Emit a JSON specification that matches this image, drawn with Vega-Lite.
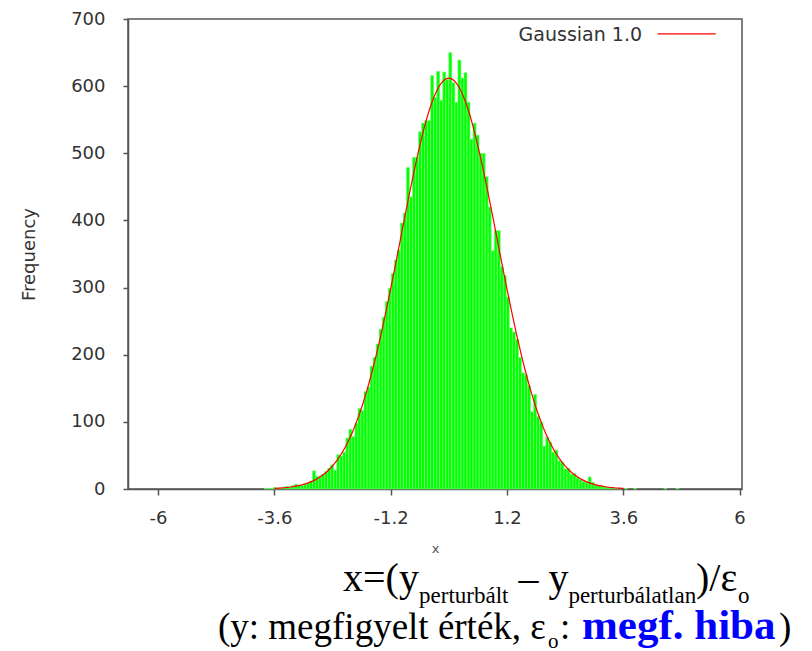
{
"$schema": "https://vega.github.io/schema/vega-lite/v6.json",
"width": 614, "height": 470,
"autosize": {"type": "none"},
"padding": {"left": 128, "top": 19, "right": 70, "bottom": 162},
"background": "white",
"config": {
  "view": {"stroke": "#555", "strokeWidth": 1.5},
  "axis": {"domainColor": "#555", "domainWidth": 1.5, "tickColor": "#555", "tickWidth": 1.5, "labelFont": "DejaVu Sans", "labelFontSize": 18, "labelColor": "#333", "titleFont": "DejaVu Sans", "titleFontWeight": "normal", "grid": false}
},
"datasets": {
  "bins": [
    {"b": -3.8125, "e": -3.75, "n": 1}, {"b": -3.75, "e": -3.6875, "n": 1}, {"b": -3.6875, "e": -3.625, "n": 1},
    {"b": -3.625, "e": -3.5625, "n": 2}, {"b": -3.5625, "e": -3.5, "n": 1}, {"b": -3.5, "e": -3.4375, "n": 2},
    {"b": -3.4375, "e": -3.375, "n": 2}, {"b": -3.375, "e": -3.3125, "n": 4}, {"b": -3.3125, "e": -3.25, "n": 3},
    {"b": -3.25, "e": -3.1875, "n": 5}, {"b": -3.1875, "e": -3.125, "n": 7}, {"b": -3.125, "e": -3.0625, "n": 6},
    {"b": -3.0625, "e": -3.0, "n": 5}, {"b": -3.0, "e": -2.9375, "n": 7}, {"b": -2.9375, "e": -2.875, "n": 9},
    {"b": -2.875, "e": -2.8125, "n": 12}, {"b": -2.8125, "e": -2.75, "n": 27}, {"b": -2.75, "e": -2.6875, "n": 19},
    {"b": -2.6875, "e": -2.625, "n": 19}, {"b": -2.625, "e": -2.5625, "n": 22}, {"b": -2.5625, "e": -2.5, "n": 26},
    {"b": -2.5, "e": -2.4375, "n": 31}, {"b": -2.4375, "e": -2.375, "n": 36}, {"b": -2.375, "e": -2.3125, "n": 28},
    {"b": -2.3125, "e": -2.25, "n": 51}, {"b": -2.25, "e": -2.1875, "n": 49}, {"b": -2.1875, "e": -2.125, "n": 55},
    {"b": -2.125, "e": -2.0625, "n": 76}, {"b": -2.0625, "e": -2.0, "n": 89}, {"b": -2.0, "e": -1.9375, "n": 78},
    {"b": -1.9375, "e": -1.875, "n": 98}, {"b": -1.875, "e": -1.8125, "n": 120}, {"b": -1.8125, "e": -1.75, "n": 117},
    {"b": -1.75, "e": -1.6875, "n": 145}, {"b": -1.6875, "e": -1.625, "n": 152}, {"b": -1.625, "e": -1.5625, "n": 183},
    {"b": -1.5625, "e": -1.5, "n": 196}, {"b": -1.5, "e": -1.4375, "n": 216}, {"b": -1.4375, "e": -1.375, "n": 238},
    {"b": -1.375, "e": -1.3125, "n": 256}, {"b": -1.3125, "e": -1.25, "n": 279}, {"b": -1.25, "e": -1.1875, "n": 299},
    {"b": -1.1875, "e": -1.125, "n": 321}, {"b": -1.125, "e": -1.0625, "n": 341}, {"b": -1.0625, "e": -1.0, "n": 356},
    {"b": -1.0, "e": -0.9375, "n": 396}, {"b": -0.9375, "e": -0.875, "n": 411}, {"b": -0.875, "e": -0.8125, "n": 479},
    {"b": -0.8125, "e": -0.75, "n": 435}, {"b": -0.75, "e": -0.6875, "n": 494}, {"b": -0.6875, "e": -0.625, "n": 494},
    {"b": -0.625, "e": -0.5625, "n": 532}, {"b": -0.5625, "e": -0.5, "n": 545}, {"b": -0.5, "e": -0.4375, "n": 549},
    {"b": -0.4375, "e": -0.375, "n": 549}, {"b": -0.375, "e": -0.3125, "n": 616}, {"b": -0.3125, "e": -0.25, "n": 583},
    {"b": -0.25, "e": -0.1875, "n": 622}, {"b": -0.1875, "e": -0.125, "n": 579}, {"b": -0.125, "e": -0.0625, "n": 621},
    {"b": -0.0625, "e": 0.0, "n": 610}, {"b": 0.0, "e": 0.0625, "n": 650}, {"b": 0.0625, "e": 0.125, "n": 605},
    {"b": 0.125, "e": 0.1875, "n": 576}, {"b": 0.1875, "e": 0.25, "n": 639}, {"b": 0.25, "e": 0.3125, "n": 612},
    {"b": 0.3125, "e": 0.375, "n": 620}, {"b": 0.375, "e": 0.4375, "n": 576}, {"b": 0.4375, "e": 0.5, "n": 521},
    {"b": 0.5, "e": 0.5625, "n": 545}, {"b": 0.5625, "e": 0.625, "n": 527}, {"b": 0.625, "e": 0.6875, "n": 500},
    {"b": 0.6875, "e": 0.75, "n": 500}, {"b": 0.75, "e": 0.8125, "n": 465}, {"b": 0.8125, "e": 0.875, "n": 420},
    {"b": 0.875, "e": 0.9375, "n": 355}, {"b": 0.9375, "e": 1.0, "n": 385}, {"b": 1.0, "e": 1.0625, "n": 385},
    {"b": 1.0625, "e": 1.125, "n": 331}, {"b": 1.125, "e": 1.1875, "n": 318}, {"b": 1.1875, "e": 1.25, "n": 286},
    {"b": 1.25, "e": 1.3125, "n": 240}, {"b": 1.3125, "e": 1.375, "n": 234}, {"b": 1.375, "e": 1.4375, "n": 223},
    {"b": 1.4375, "e": 1.5, "n": 196}, {"b": 1.5, "e": 1.5625, "n": 173}, {"b": 1.5625, "e": 1.625, "n": 170},
    {"b": 1.625, "e": 1.6875, "n": 154}, {"b": 1.6875, "e": 1.75, "n": 115}, {"b": 1.75, "e": 1.8125, "n": 141},
    {"b": 1.8125, "e": 1.875, "n": 108}, {"b": 1.875, "e": 1.9375, "n": 100}, {"b": 1.9375, "e": 2.0, "n": 64},
    {"b": 2.0, "e": 2.0625, "n": 77}, {"b": 2.0625, "e": 2.125, "n": 70}, {"b": 2.125, "e": 2.1875, "n": 55},
    {"b": 2.1875, "e": 2.25, "n": 58}, {"b": 2.25, "e": 2.3125, "n": 42}, {"b": 2.3125, "e": 2.375, "n": 40},
    {"b": 2.375, "e": 2.4375, "n": 30}, {"b": 2.4375, "e": 2.5, "n": 31}, {"b": 2.5, "e": 2.5625, "n": 22},
    {"b": 2.5625, "e": 2.625, "n": 23}, {"b": 2.625, "e": 2.6875, "n": 17}, {"b": 2.6875, "e": 2.75, "n": 14},
    {"b": 2.75, "e": 2.8125, "n": 11}, {"b": 2.8125, "e": 2.875, "n": 10}, {"b": 2.875, "e": 2.9375, "n": 18},
    {"b": 2.9375, "e": 3.0, "n": 10}, {"b": 3.0, "e": 3.0625, "n": 6}, {"b": 3.0625, "e": 3.125, "n": 5},
    {"b": 3.125, "e": 3.1875, "n": 4}, {"b": 3.1875, "e": 3.25, "n": 3}, {"b": 3.25, "e": 3.3125, "n": 3},
    {"b": 3.3125, "e": 3.375, "n": 2}, {"b": 3.375, "e": 3.4375, "n": 1}, {"b": 3.4375, "e": 3.5, "n": 1},
    {"b": 3.5, "e": 3.5625, "n": 1}, {"b": 3.625, "e": 3.6875, "n": 1}, {"b": 3.8125, "e": 3.875, "n": 1},
    {"b": 4.4375, "e": 4.5, "n": 1}, {"b": 4.6875, "e": 4.75, "n": 1}
  ],
  "fit": [
    {"x": -3.6, "g": 0.9}, {"x": -3.5, "g": 1.3}, {"x": -3.4, "g": 1.9}, {"x": -3.3, "g": 2.6}, {"x": -3.2, "g": 3.7},
    {"x": -3.1, "g": 5.0}, {"x": -3.0, "g": 6.8}, {"x": -2.9, "g": 9.1}, {"x": -2.8, "g": 12.1}, {"x": -2.7, "g": 16.0},
    {"x": -2.6, "g": 20.8}, {"x": -2.5, "g": 26.9}, {"x": -2.4, "g": 34.4}, {"x": -2.3, "g": 43.5}, {"x": -2.2, "g": 54.4},
    {"x": -2.1, "g": 67.5}, {"x": -2.0, "g": 82.8}, {"x": -1.9, "g": 100.7}, {"x": -1.8, "g": 121.1}, {"x": -1.7, "g": 144.3},
    {"x": -1.6, "g": 170.2}, {"x": -1.5, "g": 198.7}, {"x": -1.4, "g": 229.7}, {"x": -1.3, "g": 262.9}, {"x": -1.2, "g": 297.9},
    {"x": -1.1, "g": 334.2}, {"x": -1.0, "g": 371.2}, {"x": -0.9, "g": 408.2}, {"x": -0.8, "g": 444.4}, {"x": -0.7, "g": 479.0},
    {"x": -0.6, "g": 511.2}, {"x": -0.5, "g": 540.1}, {"x": -0.4, "g": 564.9}, {"x": -0.3, "g": 585.1}, {"x": -0.2, "g": 599.9},
    {"x": -0.1, "g": 608.9}, {"x": 0.0, "g": 612.0}, {"x": 0.1, "g": 608.9}, {"x": 0.2, "g": 599.9}, {"x": 0.3, "g": 585.1},
    {"x": 0.4, "g": 564.9}, {"x": 0.5, "g": 540.1}, {"x": 0.6, "g": 511.2}, {"x": 0.7, "g": 479.0}, {"x": 0.8, "g": 444.4},
    {"x": 0.9, "g": 408.2}, {"x": 1.0, "g": 371.2}, {"x": 1.1, "g": 334.2}, {"x": 1.2, "g": 297.9}, {"x": 1.3, "g": 262.9},
    {"x": 1.4, "g": 229.7}, {"x": 1.5, "g": 198.7}, {"x": 1.6, "g": 170.2}, {"x": 1.7, "g": 144.3}, {"x": 1.8, "g": 121.1},
    {"x": 1.9, "g": 100.7}, {"x": 2.0, "g": 82.8}, {"x": 2.1, "g": 67.5}, {"x": 2.2, "g": 54.4}, {"x": 2.3, "g": 43.5},
    {"x": 2.4, "g": 34.4}, {"x": 2.5, "g": 26.9}, {"x": 2.6, "g": 20.8}, {"x": 2.7, "g": 16.0}, {"x": 2.8, "g": 12.1},
    {"x": 2.9, "g": 9.1}, {"x": 3.0, "g": 6.8}, {"x": 3.1, "g": 5.0}, {"x": 3.2, "g": 3.7}, {"x": 3.3, "g": 2.6},
    {"x": 3.4, "g": 1.9}, {"x": 3.5, "g": 1.3}, {"x": 3.6, "g": 0.9}
  ]
},
"layer": [
  {
    "data": {"name": "bins"},
    "mark": {"type": "bar", "orient": "vertical", "color": "#00ff00", "stroke": "#7dff7d", "strokeWidth": 0.6},
    "encoding": {
      "x": {"field": "b", "type": "quantitative",
        "scale": {"domain": [-6.62, 6.05], "nice": false, "zero": false, "padding": 0},
        "axis": {"title": "x", "values": [-6, -3.6, -1.2, 1.2, 3.6, 6], "labelExpr": "'' + datum.value", "tickSize": 6, "labelPadding": 14, "labelOverlap": false, "labelFlush": false, "titleFontSize": 13, "titleColor": "#555", "titleY": 63, "titleBaseline": "alphabetic"}},
      "x2": {"field": "e"},
      "y": {"field": "n", "type": "quantitative",
        "scale": {"domain": [0, 700], "nice": false, "padding": 0},
        "axis": {"title": "Frequency", "values": [0, 100, 200, 300, 400, 500, 600, 700], "labelExpr": "'' + datum.value", "tickSize": 5, "labelPadding": 18, "labelOverlap": false, "titleFontSize": 18, "titleColor": "#333", "titleAngle": -90, "titleX": -94, "titleY": 235, "titleBaseline": "alphabetic", "titleAlign": "center"}},
      "y2": {"datum": 0}
    }
  },
  {
    "data": {"name": "fit"},
    "mark": {"type": "line", "color": "#ff0000", "strokeWidth": 1.2, "interpolate": "monotone"},
    "encoding": {
      "x": {"field": "x", "type": "quantitative"},
      "y": {"field": "g", "type": "quantitative"}
    }
  },
  {
    "data": {"values": [{}]},
    "mark": {"type": "text", "text": "Gaussian 1.0", "font": "DejaVu Sans", "fontSize": 19, "color": "#333", "align": "right", "baseline": "alphabetic"},
    "encoding": {"x": {"datum": 3.987, "type": "quantitative"}, "y": {"datum": 667.7, "type": "quantitative"}}
  },
  {
    "data": {"values": [{}]},
    "mark": {"type": "rule", "color": "#ff0000", "strokeWidth": 1.2},
    "encoding": {"x": {"datum": 4.311, "type": "quantitative"}, "x2": {"datum": 5.508}, "y": {"datum": 677.7, "type": "quantitative"}}
  },
  {
    "data": {"values": [{}]},
    "mark": {"type": "text", "text": "x=(y", "font": "Liberation Serif", "fontSize": 40, "color": "black", "align": "left", "baseline": "alphabetic"},
    "encoding": {"x": {"datum": -2.183, "type": "quantitative"}, "y": {"datum": -151.9, "type": "quantitative"}}
  },
  {
    "data": {"values": [{}]},
    "mark": {"type": "text", "text": "perturbált", "font": "Liberation Serif", "fontSize": 23, "color": "black", "align": "left", "baseline": "alphabetic"},
    "encoding": {"x": {"datum": -0.615, "type": "quantitative"}, "y": {"datum": -169.8, "type": "quantitative"}}
  },
  {
    "data": {"values": [{}]},
    "mark": {"type": "text", "text": "– y", "font": "Liberation Serif", "fontSize": 40, "color": "black", "align": "left", "baseline": "alphabetic"},
    "encoding": {"x": {"datum": 1.437, "type": "quantitative"}, "y": {"datum": -151.9, "type": "quantitative"}}
  },
  {
    "data": {"values": [{}]},
    "mark": {"type": "text", "text": "perturbálatlan", "font": "Liberation Serif", "fontSize": 23, "color": "black", "align": "left", "baseline": "alphabetic"},
    "encoding": {"x": {"datum": 2.468, "type": "quantitative"}, "y": {"datum": -169.8, "type": "quantitative"}}
  },
  {
    "data": {"values": [{}]},
    "mark": {"type": "text", "text": ")/ε", "font": "Liberation Serif", "fontSize": 40, "color": "black", "align": "left", "baseline": "alphabetic"},
    "encoding": {"x": {"datum": 5.101, "type": "quantitative"}, "y": {"datum": -151.9, "type": "quantitative"}}
  },
  {
    "data": {"values": [{}]},
    "mark": {"type": "text", "text": "o", "font": "Liberation Serif", "fontSize": 23, "color": "black", "align": "left", "baseline": "alphabetic"},
    "encoding": {"x": {"datum": 5.968, "type": "quantitative"}, "y": {"datum": -169.8, "type": "quantitative"}}
  },
  {
    "data": {"values": [{}]},
    "mark": {"type": "text", "text": "(y: megfigyelt érték, ε", "font": "Liberation Serif", "fontSize": 37, "color": "black", "align": "left", "baseline": "alphabetic"},
    "encoding": {"x": {"datum": -4.763, "type": "quantitative"}, "y": {"datum": -224.1, "type": "quantitative"}}
  },
  {
    "data": {"values": [{}]},
    "mark": {"type": "text", "text": "o", "font": "Liberation Serif", "fontSize": 21, "color": "black", "align": "left", "baseline": "alphabetic"},
    "encoding": {"x": {"datum": 2.047, "type": "quantitative"}, "y": {"datum": -236.8, "type": "quantitative"}}
  },
  {
    "data": {"values": [{}]},
    "mark": {"type": "text", "text": ":", "font": "Liberation Serif", "fontSize": 37, "color": "black", "align": "left", "baseline": "alphabetic"},
    "encoding": {"x": {"datum": 2.295, "type": "quantitative"}, "y": {"datum": -224.1, "type": "quantitative"}}
  },
  {
    "data": {"values": [{}]},
    "mark": {"type": "text", "text": "megf. hiba", "font": "Liberation Serif", "fontSize": 43, "fontWeight": "bold", "color": "#0000ff", "align": "left", "baseline": "alphabetic"},
    "encoding": {"x": {"datum": 2.749, "type": "quantitative"}, "y": {"datum": -224.1, "type": "quantitative"}}
  },
  {
    "data": {"values": [{}]},
    "mark": {"type": "text", "text": ")", "font": "Liberation Serif", "fontSize": 37, "color": "black", "align": "left", "baseline": "alphabetic"},
    "encoding": {"x": {"datum": 6.816, "type": "quantitative"}, "y": {"datum": -224.1, "type": "quantitative"}}
  }
]
}
